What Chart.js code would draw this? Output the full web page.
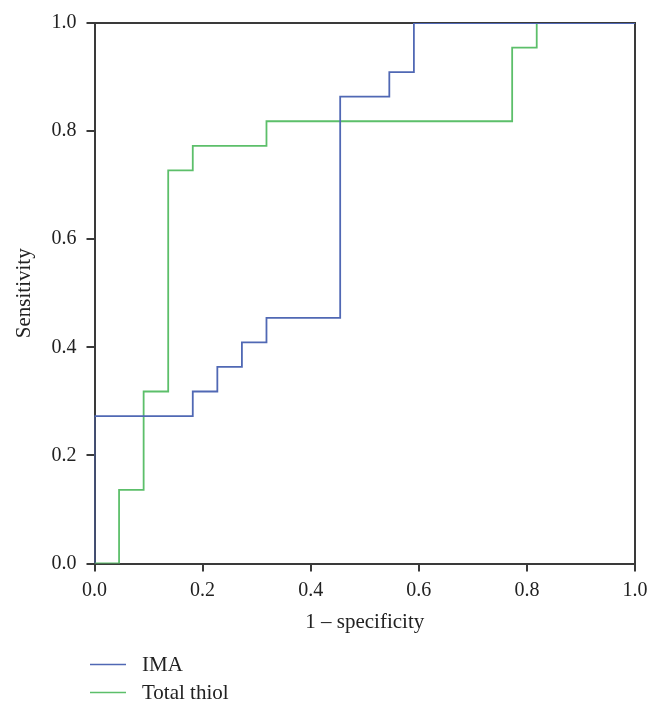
<!DOCTYPE html>
<html>
<head>
<meta charset="utf-8">
<script src="https://cdn.jsdelivr.net/npm/chart.js@4/dist/chart.umd.min.js"></script>
<style>
  html, body { margin: 0; padding: 0; background: #fff; }
  #wrap { width: 661px; height: 712px; }
</style>
</head>
<body>
<div id="wrap"><canvas id="c" width="661" height="712"></canvas></div>
<script>
// ROC operating points (1 - specificity, sensitivity)
const imaFpr   = [0, 0, 4/22, 5/22, 6/22, 7/22, 10/22, 12/22, 13/22, 1];
const imaTpr   = [0, 6/22, 7/22, 8/22, 9/22, 10/22, 19/22, 20/22, 1, 1];
const thiolFpr = [0, 1/22, 2/22, 3/22, 4/22, 7/22, 17/22, 18/22, 1];
const thiolTpr = [0, 3/22, 7/22, 16/22, 17/22, 18/22, 21/22, 1, 1];
const seriesNames = ['IMA', 'Total thiol'];
const tickValues = [0, 0.2, 0.4, 0.6, 0.8, 1.0];

const FONT = "'Liberation Serif', 'DejaVu Serif', serif";
const AXIS = '#3a3a3a';
const TXT = '#222222';
const BLUE = '#5068b4';
const GREEN = '#5cbf6a';

const toPts = (xs, ys) => xs.map((x, i) => ({ x: x, y: ys[i] }));

const legendPlugin = {
  id: 'stackLegend',
  afterDraw(chart) {
    const ctx = chart.ctx;
    ctx.save();
    ctx.font = '21px ' + FONT;
    ctx.textBaseline = 'middle';
    ctx.textAlign = 'left';
    chart.data.datasets.forEach((ds, i) => {
      const y = 664.5 + i * 28;
      ctx.strokeStyle = ds.borderColor;
      ctx.lineWidth = 1.5;
      ctx.beginPath();
      ctx.moveTo(90, y);
      ctx.lineTo(126, y);
      ctx.stroke();
      ctx.fillStyle = TXT;
      ctx.fillText(ds.label, 142, y + 1);
    });
    ctx.restore();
  }
};

const tickCfg = {
  font: { family: FONT, size: 20 },
  color: TXT,
  callback: v => Number(v).toFixed(1)
};

new Chart(document.getElementById('c'), {
  type: 'scatter',
  data: {
    datasets: [
      { label: seriesNames[0], data: toPts(imaFpr, imaTpr), showLine: true, stepped: 'before',
        borderColor: BLUE, backgroundColor: BLUE, borderWidth: 1.8, pointRadius: 0, fill: false },
      { label: seriesNames[1], data: toPts(thiolFpr, thiolTpr), showLine: true, stepped: 'before',
        borderColor: GREEN, backgroundColor: GREEN, borderWidth: 1.8, pointRadius: 0, fill: false }
    ]
  },
  options: {
    responsive: false,
    animation: false,
    layout: { padding: { left: 0, right: 26, top: 23, bottom: 76.5 } },
    plugins: { legend: { display: false }, tooltip: { enabled: false } },
    scales: {
      x: {
        type: 'linear', position: 'bottom', min: 0, max: 1, z: 1,
        afterBuildTicks: s => { s.ticks = tickValues.map(v => ({ value: v })); },
        afterFit: s => { s.height = 72; },
        ticks: Object.assign({ padding: 7, maxRotation: 0 }, tickCfg),
        grid: { drawOnChartArea: false, drawTicks: true, tickLength: 8, color: AXIS, lineWidth: 2 },
        border: { display: true, color: AXIS, width: 2 },
        title: { display: true, text: '1 – specificity', font: { family: FONT, size: 21 }, color: TXT, padding: { top: 0, bottom: 0 } }
      },
      y: {
        type: 'linear', position: 'left', min: 0, max: 1, z: 1,
        afterBuildTicks: s => { s.ticks = tickValues.map(v => ({ value: v })); },
        afterFit: s => { s.width = 94.5; },
        ticks: Object.assign({ padding: 10 }, tickCfg),
        grid: { drawOnChartArea: false, drawTicks: true, tickLength: 8, color: AXIS, lineWidth: 2 },
        border: { display: true, color: AXIS, width: 2 },
        title: { display: true, text: 'Sensitivity', font: { family: FONT, size: 21 }, color: TXT, padding: { top: 12, bottom: 0 } }
      },
      x2: {
        type: 'linear', position: 'top', min: 0, max: 1, z: 1,
        afterFit: s => { s.height = 0; },
        ticks: { display: false },
        grid: { drawOnChartArea: false, drawTicks: false },
        border: { display: true, color: AXIS, width: 2 }
      },
      y2: {
        type: 'linear', position: 'right', min: 0, max: 1, z: 1,
        afterFit: s => { s.width = 0; },
        ticks: { display: false },
        grid: { drawOnChartArea: false, drawTicks: false },
        border: { display: true, color: AXIS, width: 2 }
      }
    }
  },
  plugins: [legendPlugin]
});
</script>
</body>
</html>
